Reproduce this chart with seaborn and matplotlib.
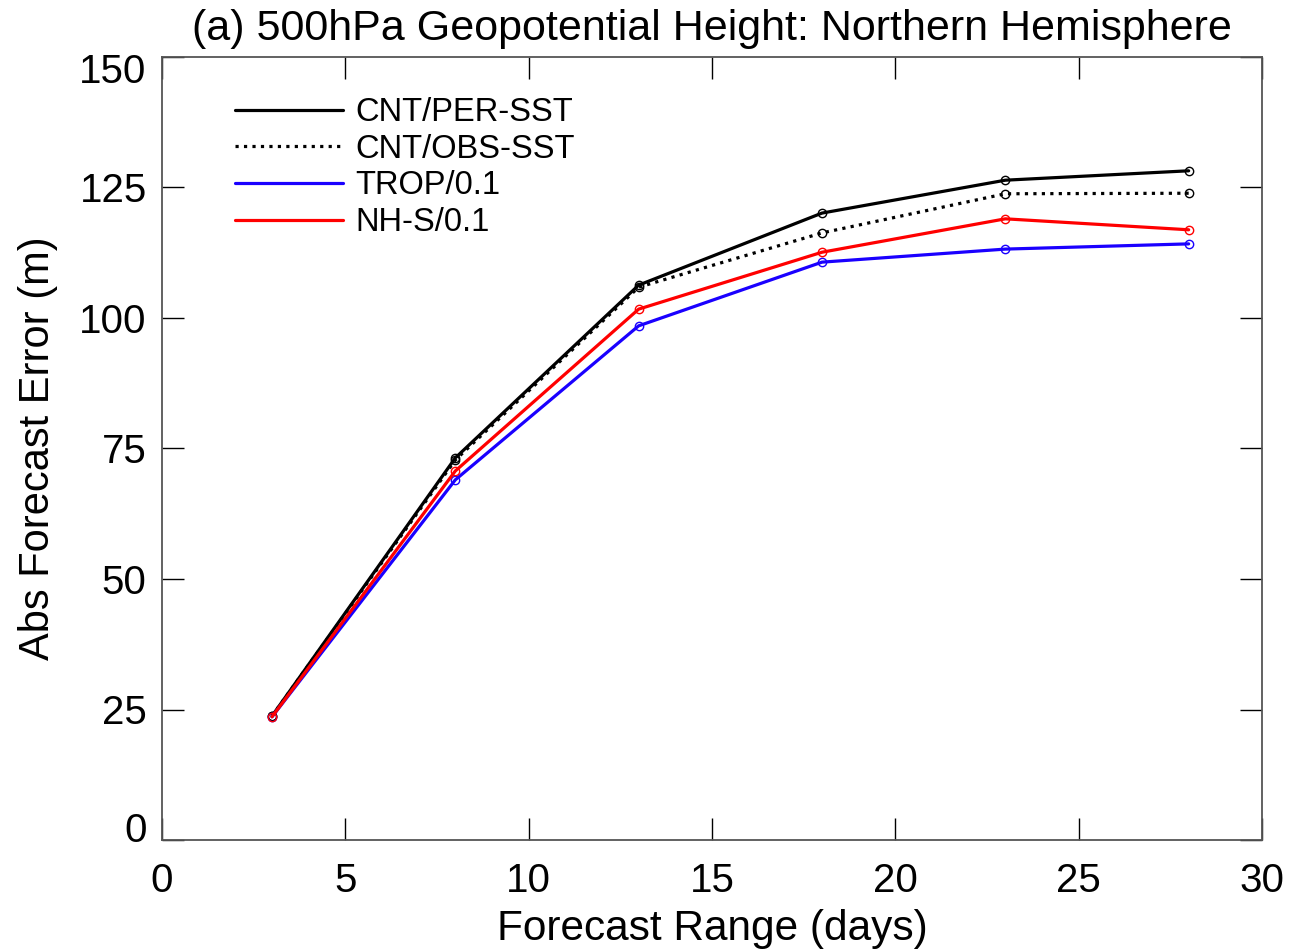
import matplotlib
matplotlib.use("Agg")
import matplotlib.pyplot as plt
import matplotlib.transforms as mtrans
import seaborn as sns
import pandas as pd

days = [3, 8, 13, 18, 23, 28]
cnt_per = [23.75, 73.2, 106.3, 120.1, 126.4, 128.2]
cnt_obs = [23.75, 72.8, 105.9, 116.3, 123.8, 123.9]
trop = [23.6, 69.0, 98.5, 110.7, 113.2, 114.2]
nhs = [23.6, 70.7, 101.7, 112.6, 119.0, 116.9]

names = ["CNT/PER-SST", "CNT/OBS-SST", "TROP/0.1", "NH-S/0.1"]
series = [cnt_per, cnt_obs, trop, nhs]
colors = ["black", "black", "#1a00ff", "#ff0000"]
styles = ["-", ":", "-", "-"]

xticks = [0, 5, 10, 15, 20, 25, 30]
yticks = [0, 25, 50, 75, 100, 125, 150]

sns.set_theme(style="ticks")
plt.rcParams['font.family'] = ['Liberation Sans', 'DejaVu Sans']
plt.rcParams['text.color'] = 'black'
plt.rcParams['axes.labelcolor'] = 'black'
plt.rcParams['xtick.color'] = 'black'
plt.rcParams['ytick.color'] = 'black'

fig = plt.figure(figsize=(12.92, 9.5), dpi=100)
ax = fig.add_axes([162/1292, 1 - 840/950, 1100/1292, 783/950])

for name, vals, c, ls in zip(names, series, colors, styles):
    df = pd.DataFrame({"x": days, "y": vals})
    sns.lineplot(data=df, x="x", y="y", ax=ax, color=c, linestyle=ls, lw=2.3,
                 marker="o", markersize=6, markerfacecolor="none",
                 markeredgecolor=c, markeredgewidth=1.0, label=name)

ax.set_xlim(0, 30)
ax.set_ylim(0, 150)
ax.set_xticks(xticks)
ax.set_yticks(yticks)
ax.set_xticklabels([str(v) for v in xticks])
ax.set_yticklabels([str(v) for v in yticks])
ax.tick_params(direction="in", length=16, width=1, labelsize=29, top=True, right=True,
               color="black", labelcolor="black")
ax.tick_params(axis="y", pad=11)
ax.tick_params(axis="x", pad=15.5)
for s in ax.spines.values():
    s.set_color("#555555")
    s.set_linewidth(1.3)
ax.set_xlabel("Forecast Range (days)", fontsize=30.5, labelpad=7)
ax.set_ylabel("Abs Forecast Error (m)", fontsize=30, labelpad=15)
ax.set_title("(a) 500hPa Geopotential Height: Northern Hemisphere", fontsize=31, pad=12)

ylabels = ax.get_yticklabels()
ylabels[0].set_transform(ylabels[0].get_transform() +
                         mtrans.ScaledTranslation(0, 0.13, fig.dpi_scale_trans))
ylabels[-1].set_transform(ylabels[-1].get_transform() +
                          mtrans.ScaledTranslation(0, -0.11, fig.dpi_scale_trans))

leg = ax.legend(loc="upper left", bbox_to_anchor=(0.049, 0.9735), frameon=False,
                fontsize=23.5, handlelength=3.3, handletextpad=0.38, labelspacing=0.17,
                borderaxespad=0.2)
for h in leg.get_lines():
    h.set_marker("")
    h.set_linewidth(2.3)

fig.savefig("out.png", dpi=100)
